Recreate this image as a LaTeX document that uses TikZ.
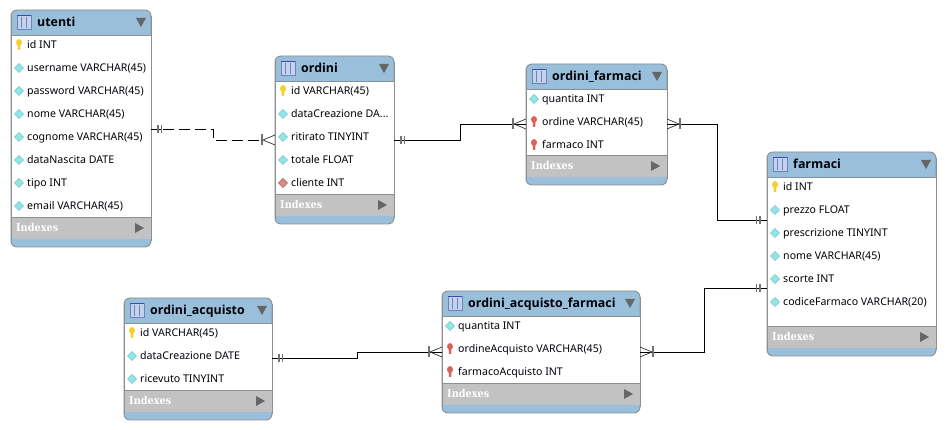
\documentclass[tikz,border=0pt]{standalone}
\usepackage{fontspec}
\setmainfont{Noto Sans}
\newfontfamily\ttlfont{Open Sans}
\newfontfamily\idxfont[FakeStretch=0.9]{DejaVu Serif}
\usetikzlibrary{calc}
\definecolor{hdr}{HTML}{9ABFDA}
\definecolor{band}{HTML}{C2C2C2}
\definecolor{edgeg}{HTML}{8A8F94}
\definecolor{tri}{HTML}{666666}
\definecolor{cy}{HTML}{8FE6E6}
\definecolor{cyd}{HTML}{7CC4C8}
\definecolor{rd}{HTML}{E08A84}
\definecolor{keyy}{HTML}{F5CF2E}
\definecolor{keyr}{HTML}{D9635A}
\definecolor{ink}{HTML}{000008}
\definecolor{icofill}{HTML}{C4D2EE}
\definecolor{icoline}{HTML}{6C82B8}
\definecolor{icotop}{HTML}{3A48B0}
\tikzset{
  tablebox/.style={draw=edgeg,line width=0.9pt,fill=hdr,rounded corners=6pt,inner sep=0pt,outer sep=0pt,anchor=north west},
  rowtext/.style={anchor=base west,inner sep=0pt,text=ink,font=\fontsize{10.6}{12}\selectfont},
  titletext/.style={anchor=base west,inner sep=0pt,text=ink,font=\ttlfont\fontsize{12.4}{14}\selectfont\bfseries},
  idxtext/.style={anchor=base west,inner sep=0pt,text=white,font=\idxfont\fontsize{10.8}{12}\selectfont\bfseries},
  conn/.style={draw=black,line width=0.9pt},
  dashconn/.style={conn,dash pattern=on 11pt off 5pt},
  barmark/.style={draw=black!55,line width=1.4pt},
  bigbar/.style={draw=black!55,line width=1.8pt},
  footmark/.style={draw=black!80,line width=0.7pt},
}
\newcommand\ertable[7]{% name,l,t,r,b,title,rows
  \pgfmathsetmacro\tw{#4-#2}\pgfmathsetmacro\th{#5-#3}
  \node[tablebox,minimum width=\tw pt,minimum height=\th pt] (#1) at (#2,#3) {};
  \fill[white] (#2,#3+25) rectangle (#4,#5-30);
  \fill[band] (#2,#5-30) rectangle (#4,#5-8);
  \draw[edgeg,line width=0.9pt] (#2,#3+25) -- (#4,#3+25);
  \draw[edgeg,line width=0.9pt] (#2,#3+6) -- (#2,#5-6) (#4,#3+6) -- (#4,#5-6);
  \draw[edgeg,line width=0.6pt] (#2,#5-30) -- (#4,#5-30);
  % table icon
  \fill[icofill] (#2+6,#3+5) rectangle (#2+20,#3+19);
  \draw[icoline,line width=0.8pt] (#2+6,#3+5) rectangle (#2+20,#3+19);
  \draw[icotop,line width=1.2pt] (#2+6,#3+5.4) -- (#2+20,#3+5.4);
  \draw[icoline,line width=0.6pt] (#2+10.7,#3+7) -- (#2+10.7,#3+18) (#2+15.3,#3+7) -- (#2+15.3,#3+18);
  \node[titletext] (#1-title) at (#2+26,#3+17) {#6};
  \fill[tri] (#4-15,#3+8) -- (#4-5,#3+8) -- (#4-10,#3+17) -- cycle;
  \node[idxtext] (#1-idx) at (#2+5,#5-15) {Indexes};
  \fill[tri] (#4-16,#5-24) -- (#4-7,#5-19) -- (#4-16,#5-14) -- cycle;
  \foreach \kind/\txt [count=\i from 0] in {#7}{
    \pgfmathsetmacro\ry{#3+35+23*\i}
    \csname ico\kind\endcsname{#2+8}{\ry}
    \node[rowtext] (#1-r\i) at (#2+16,\ry+4) {\txt};
  }
}
\newcommand\icokey[2]{\keyshape{#1}{#2}{keyy}}
\newcommand\icofk[2]{\keyshape{#1}{#2}{keyr}}
\newcommand\keyshape[3]{%
  \fill[#3] (#1,#2-2.5) ellipse (3pt and 3.4pt);
  \fill[#3] (#1-1.5,#2-2) -- (#1+1.5,#2-2) -- (#1+1.2,#2+5) -- (#1-1,#2+5) -- cycle;
}
\newcommand\icocol[2]{\diam{#1}{#2}{cy}{cyd}}
\newcommand\icofd[2]{\diam{#1}{#2}{rd}{rd!70!black}}
\newcommand\diam[4]{%
  \fill[#3,draw=#4,line width=0.5pt] (#1-4.5,#2) -- (#1,#2-4.5) -- (#1+4.5,#2) -- (#1,#2+4.5) -- cycle;
}
\newcommand\onemark[2]{%
  \draw[barmark] ($(#1)+(#2*7,-4)$) -- ++(0,8);
  \draw[barmark] ($(#1)+(#2*10.5,-4)$) -- ++(0,8);
}
\newcommand\manymark[2]{%
  \draw[bigbar] ($(#1)+(#2*13,-5.5)$) -- ++(0,11);
  \draw[footmark] ($(#1)+(0,-5)$) -- ($(#1)+(#2*12,0)$) -- ($(#1)+(0,5)$);
}
\begin{document}
\begin{tikzpicture}[x=1pt,y=-1pt]
\useasboundingbox (0,0) rectangle (946,430);
\fill[white] (0,0) rectangle (946,430);
\ertable{utenti}{11}{10}{151}{247}{utenti}{key/{id INT},col/{username VARCHAR(45)},col/{password VARCHAR(45)},col/{nome VARCHAR(45)},col/{cognome VARCHAR(45)},col/{dataNascita DATE},col/{tipo INT},col/{email VARCHAR(45)}}
\ertable{ordini}{275}{56}{394}{224}{ordini}{key/{id VARCHAR(45)},col/{dataCreazione DA...},col/{ritirato TINYINT},col/{totale FLOAT},fd/{cliente INT}}
\ertable{ofarm}{526}{64}{667}{185}{ordini\_farmaci}{col/{quantita INT},fk/{ordine VARCHAR(45)},fk/{farmaco INT}}
\ertable{farmaci}{767}{152}{936}{356}{farmaci}{key/{id INT},col/{prezzo FLOAT},col/{prescrizione TINYINT},col/{nome VARCHAR(45)},col/{scorte INT},col/{codiceFarmaco VARCHAR(20)}}
\ertable{oacq}{124}{298}{272}{420}{ordini\_acquisto}{key/{id VARCHAR(45)},col/{dataCreazione DATE},col/{ricevuto TINYINT}}
\ertable{oaf}{442}{291}{640}{413}{ordini\_acquisto\_farmaci}{col/{quantita INT},fk/{ordineAcquisto VARCHAR(45)},fk/{farmacoAcquisto INT}}
\coordinate (a1) at (utenti.east |- 0,129);
\coordinate (b1) at (ordini.west |- 0,140);
\coordinate (a2) at (ordini.east |- 0,140);
\coordinate (b2) at (ofarm.west |- 0,124);
\coordinate (a3) at (ofarm.east |- 0,124);
\coordinate (b3) at (farmaci.west |- 0,220);
\coordinate (a4) at (oaf.east |- 0,352);
\coordinate (b4) at (farmaci.west |- 0,288);
\coordinate (a5) at (oacq.east |- 0,358);
\coordinate (b5) at (oaf.west |- 0,352);
\draw[conn] (a1) -- ++(10,0);
\draw[dashconn] ($(a1)+(12,0)$) -| (213,140) -- ($(b1)+(-13,0)$);
\draw[conn] (a2) -| (460,124) -- (b2);
\draw[conn] (a3) -| (717,220) -- (b3);
\draw[conn] (a4) -| (704,288) -- (b4);
\draw[conn] (a5) -| (357,352) -- (b5);
\onemark{a1}{1}\manymark{b1}{-1}
\onemark{a2}{1}\manymark{b2}{-1}
\manymark{a3}{1}\onemark{b3}{-1}
\manymark{a4}{1}\onemark{b4}{-1}
\onemark{a5}{1}\manymark{b5}{-1}
\end{tikzpicture}
\end{document}
